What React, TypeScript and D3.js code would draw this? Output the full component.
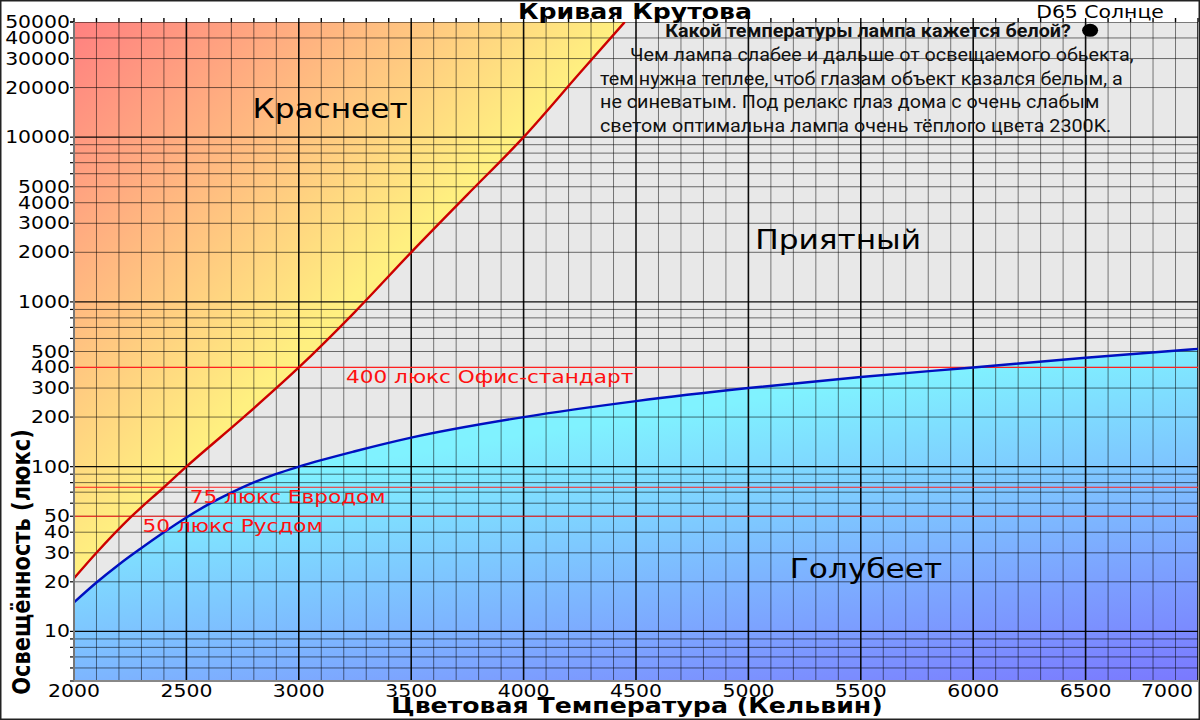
import React from 'react';
import * as d3 from 'd3';

// Kruithof curve
const redTemps = [2000, 2100, 2250, 2400, 2500, 2750, 3000, 3250, 3500, 3750, 4000, 4250, 4450];
const redLux = [21, 30, 49, 75, 100, 197, 400, 871, 2000, 4480, 10000, 24500, 50000];

const blueTemps = [2000, 2100, 2200, 2300, 2400, 2500, 2600, 2700, 2800, 2900, 3000, 3250, 3500, 4000, 4500, 5000, 5500, 6000, 6500, 7000];
const blueLux = [15, 19.8, 25.5, 32.1, 40, 49.2, 59.2, 69.5, 80.2, 90.4, 100, 124, 150, 200, 250, 300, 350, 400, 458, 519];

const xTicks = [2000, 2500, 3000, 3500, 4000, 4500, 5000, 5500, 6000, 6500, 7000];
const yTicks = [10, 20, 30, 40, 50, 100, 200, 300, 400, 500, 1000, 2000, 3000, 4000, 5000, 10000, 20000, 30000, 40000, 50000];

const refLux = [400, 75, 50];
const refLabels = ['400 люкс Офис-стандарт', '75 люкс Евродом', '50 люкс Русдом'];
const refLabelTemps = [3210, 2515, 2305];

const regionNames = ['Краснеет', 'Приятный', 'Голубеет'];
const regionTemps = [3139, 5399, 5523];
const regionLux = [13000, 2100, 21.2];

const d65 = { temp: 6520, lux: 44500 };

const noteTitle = 'Какой температуры лампа кажется белой?';
const noteLines = [
  'Чем лампа слабее и дальше от освещаемого обьекта,',
  'тем нужна теплее, чтоб глазам объект казался белым, а',
  'не синеватым. Под релакс глаз дома с очень слабым',
  'светом оптимальна лампа очень тёплого цвета 2300K.',
];

const W = 1200;
const H = 720;
const left = 74;
const right = 1198;
const top = 22;
const bottom = 681;
const sx = 1.2; // text in the picture is a bit wide
const nx = 1.04; // same for the note

const App: React.FC = () => {
  const x = d3.scaleLinear().domain([2000, 7000]).range([left, right]);
  const y = d3.scaleLog().domain([5, 50000]).range([bottom, top]);

  const red = redTemps.map((t, i) => [t, redLux[i]] as [number, number]);
  const blue = blueTemps.map((t, i) => [t, blueLux[i]] as [number, number]);

  const line = d3
    .line<[number, number]>()
    .x((d) => x(d[0]))
    .y((d) => y(d[1]))
    .curve(d3.curveMonotoneX);

  const warmArea = d3
    .area<[number, number]>()
    .x((d) => x(d[0]))
    .y0(top)
    .y1((d) => y(d[1]))
    .curve(d3.curveMonotoneX);

  const coolArea = d3
    .area<[number, number]>()
    .x((d) => x(d[0]))
    .y0(bottom)
    .y1((d) => y(d[1]))
    .curve(d3.curveMonotoneX);

  const minorX = d3.range(2000, 7001, 100);
  const minorY: number[] = [];
  [1, 10, 100, 1000, 10000].forEach((dec) => {
    for (let k = 1; k < 10; k++) {
      const v = k * dec;
      if (v >= 5 && v <= 50000) minorY.push(v);
    }
  });
  minorY.push(50000);

  const stretched = (tx: number, ty: number, k = sx) => `translate(${tx},${ty}) scale(${k},1)`;

  return (
    <svg
      width={W}
      height={H}
      style={{ position: 'absolute', left: 0, top: 0, background: '#fff' }}
      fontFamily="DejaVu Sans"
    >
      <defs>
        <clipPath id="plot">
          <rect x={left} y={top} width={right - left} height={bottom - top} />
        </clipPath>
        <linearGradient id="warm" gradientUnits="userSpaceOnUse" x1={74} y1={22} x2={350} y2={300}>
          <stop offset="0" stopColor="#ff8080" />
          <stop offset="1" stopColor="#fff080" />
        </linearGradient>
        <linearGradient id="cool" gradientUnits="userSpaceOnUse" x1={300} y1={470} x2={354} y2={814}>
          <stop offset="0" stopColor="#80f2ff" />
          <stop offset="1" stopColor="#7a78ff" />
        </linearGradient>
      </defs>

      <rect x={left} y={top} width={right - left} height={bottom - top} fill="#e8e8e8" />
      <g clipPath="url(#plot)">
        <path d={warmArea(red) ?? ''} fill="url(#warm)" />
        <path d={coolArea(blue) ?? ''} fill="url(#cool)" />

        {minorX.map((t) => (
          <line
            key={'vx' + t}
            x1={x(t)}
            x2={x(t)}
            y1={top}
            y2={bottom}
            stroke="#000"
            strokeWidth={t % 500 === 0 ? 1.6 : 1}
            strokeOpacity={t % 500 === 0 ? 0.95 : 0.5}
          />
        ))}
        {minorY.map((v) => {
          const major = Math.abs(Math.log10(v) - Math.round(Math.log10(v))) < 1e-9;
          return (
            <line
              key={'hy' + v}
              x1={left}
              x2={right}
              y1={y(v)}
              y2={y(v)}
              stroke="#000"
              strokeWidth={major ? 1.4 : 1}
              strokeOpacity={major ? 0.95 : 0.55}
            />
          );
        })}

        {refLux.map((v) => (
          <line key={'ref' + v} x1={left} x2={right} y1={y(v)} y2={y(v)} stroke="#ff2020" strokeWidth={1.2} />
        ))}

        <path d={line(red) ?? ''} fill="none" stroke="#cc0000" strokeWidth={2.4} />
        <path d={line(blue) ?? ''} fill="none" stroke="#0010c0" strokeWidth={2.4} />
      </g>

      {/* ticks outside the frame */}
      {minorX.map((t) => (
        <line key={'tt' + t} x1={x(t)} x2={x(t)} y1={top - 4} y2={top} stroke="#000" strokeWidth={1.4} />
      ))}
      {minorY.map((v) => (
        <line key={'lt' + v} x1={left - 4} x2={left} y1={y(v)} y2={y(v)} stroke="#000" strokeWidth={1.2} />
      ))}
      <line x1={left} x2={left} y1={top} y2={bottom} stroke="#777" strokeWidth={2} />
      <line x1={left} x2={right} y1={bottom} y2={bottom} stroke="#888" strokeWidth={2} />

      {/* tick labels */}
      {yTicks.map((v) => (
        <text key={'yl' + v} transform={stretched(left - 4, y(v) + 6)} textAnchor="end" fontSize={17}>
          {v}
        </text>
      ))}
      {xTicks.map((t, i) => (
        <text
          key={'xl' + t}
          transform={stretched(i === xTicks.length - 1 ? right - 5 : x(t), bottom + 16)}
          textAnchor={i === xTicks.length - 1 ? 'end' : 'middle'}
          fontSize={17}
        >
          {t}
        </text>
      ))}

      {/* reference line labels */}
      {refLabels.map((s, i) => (
        <text
          key={s}
          transform={stretched(x(refLabelTemps[i]), y(refLux[i]) + 16)}
          fontSize={18}
          fill="#ff1010"
        >
          {s}
        </text>
      ))}

      {/* region names */}
      {regionNames.map((s, i) => (
        <text key={s} transform={stretched(x(regionTemps[i]), y(regionLux[i]))} textAnchor="middle" fontSize={26}>
          {s}
        </text>
      ))}

      {/* D65 point and note */}
      <ellipse cx={x(d65.temp)} cy={y(d65.lux)} rx={8} ry={6.5} fill="#000" />
      <g fontFamily="Roboto" fill="#111" fontSize={19}>
        <text transform={stretched(868, 37, nx)} textAnchor="middle" fontWeight="bold">
          {noteTitle}
        </text>
        {noteLines.map((s, i) => (
          <text key={i} transform={stretched(i === 0 ? 630 : 600, 61 + i * 23.6, nx)}>
            {s}
          </text>
        ))}
      </g>

      {/* titles */}
      <text transform={stretched(635, 19)} textAnchor="middle" fontSize={21} fontWeight="bold">
        Кривая Крутова
      </text>
      <text transform={stretched(1100, 18)} textAnchor="middle" fontSize={17}>
        D65 Солнце
      </text>
      <text transform={stretched(637, 713)} textAnchor="middle" fontSize={21} fontWeight="bold">
        Цветовая Температура (Кельвин)
      </text>
      <text transform={`translate(30,562) rotate(-90) scale(1,${sx})`} textAnchor="middle" fontSize={21} fontWeight="bold">
        Освещённость (люкс)
      </text>

      <rect x={0.75} y={0.75} width={W - 1.5} height={H - 1.5} fill="none" stroke="#222" strokeWidth={1.5} />
    </svg>
  );
};

export default App;
